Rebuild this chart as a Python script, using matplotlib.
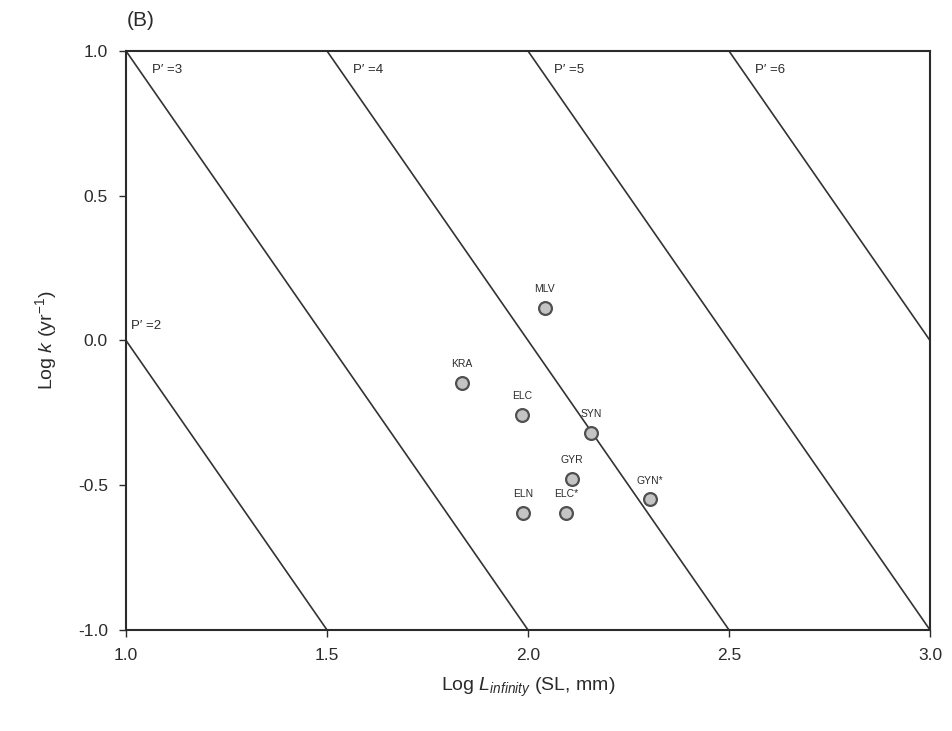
import matplotlib
matplotlib.use("Agg")
import matplotlib.pyplot as plt
import numpy as np

plt.rcParams['font.family'] = ['Liberation Sans', 'DejaVu Sans']
plt.rcParams['mathtext.fontset'] = 'custom'
plt.rcParams['mathtext.rm'] = 'Liberation Sans'
plt.rcParams['mathtext.it'] = 'Liberation Sans:italic'

# species: log L_infinity (SL, mm) and log k (yr^-1)
species = ['MLV', 'KRA', 'ELC', 'SYN', 'GYR', 'GYN*', 'ELN', 'ELC*']
log_linf = [2.042, 1.835, 1.986, 2.157, 2.109, 2.303, 1.988, 2.095]
log_k = [0.111, -0.146, -0.257, -0.318, -0.478, -0.549, -0.597, -0.597]

# growth performance index isolines: P' = log k + 2 log L
phi_values = [2, 3, 4, 5, 6]

fig = plt.figure(figsize=(9.52, 7.31), dpi=100)
ax = fig.add_axes([0.1324, 0.1382, 0.9769 - 0.1324, 0.9302 - 0.1382])

dark = '#2b2b2b'
xx = np.linspace(1.0, 3.0, 200)
for p in phi_values:
    yy = p - 2 * xx
    ax.plot(xx, yy, color='#333333', lw=1.2)
    x_top = (p - 1.0) / 2
    if x_top >= 1.0:
        ax.text(x_top + 0.065, 0.935, "P\u2032 =%d" % p, fontsize=9.5,
                color=dark, va='center', ha='left')
    else:
        ax.text(1.012, p - 2 * 1.0 + 0.05, "P\u2032 =%d" % p, fontsize=9.5,
                color=dark, va='center', ha='left')

ax.scatter(log_linf, log_k, s=85, facecolor='#c4c4c4', edgecolor='#505050',
           linewidth=1.6, zorder=3)
for name, x, y in zip(species, log_linf, log_k):
    ax.annotate(name, (x, y), xytext=(0, 10), textcoords='offset points',
                ha='center', va='bottom', fontsize=7.5, color=dark)

ax.set_xlim(1.0, 3.0)
ax.set_ylim(-1.0, 1.0)
ax.set_xticks([1.0, 1.5, 2.0, 2.5, 3.0])
ax.set_yticks([-1.0, -0.5, 0.0, 0.5, 1.0])
ax.set_xticklabels(['1.0', '1.5', '2.0', '2.5', '3.0'])
ax.set_yticklabels(['-1.0', '-0.5', '0.0', '0.5', '1.0'])
ax.tick_params(direction='out', length=5, width=1.0, labelsize=12.5,
               colors=dark, pad=8)
for s in ax.spines.values():
    s.set_linewidth(1.5)
    s.set_color(dark)

ax.set_xlabel('Log $\\mathit{L}_{\\mathit{infinity}}$ (SL, mm)',
              fontsize=14, color=dark, labelpad=9)
ax.set_ylabel('Log $\\mathit{k}$ (yr$^{-1}$)', fontsize=14, color=dark,
              labelpad=14)

fig.text(0.133, 0.972, '(B)', fontsize=15, color=dark, va='center', ha='left')

fig.savefig('out.png', dpi=100)
